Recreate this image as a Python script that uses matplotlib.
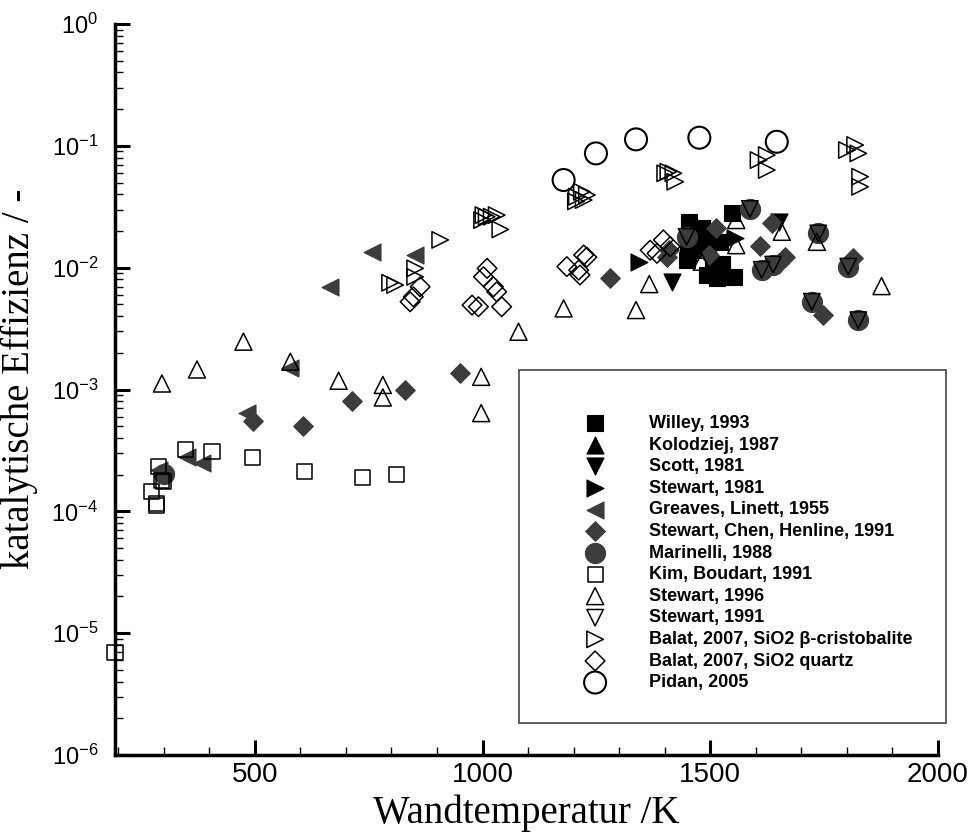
import matplotlib
matplotlib.use("Agg")
import matplotlib.pyplot as plt
from matplotlib.ticker import FixedLocator, MultipleLocator, LogLocator, NullFormatter
from matplotlib.patches import Rectangle

plt.rcParams['font.family'] = ['Liberation Sans', 'DejaVu Sans']

# --- data (T in K, efficiency) ---
willey_T = [1547, 1454, 1481, 1452, 1521, 1492, 1452, 1448, 1525, 1507, 1492, 1514, 1551, 1478]
willey_g = [2.79e-2, 2.38e-2, 2.10e-2, 1.74e-2, 1.63e-2, 1.63e-2, 1.31e-2, 1.16e-2, 1.08e-2, 1.02e-2, 8.7e-3, 8.2e-3, 8.4e-3, 1.40e-2]

kolodziej_T = [1470, 1500]
kolodziej_g = [1.9e-2, 1.45e-2]

scott_T = [1416, 1650]
scott_g = [7.6e-3, 2.35e-2]

stewart81_T = [1344, 1554]
stewart81_g = [1.12e-2, 1.74e-2]

greaves_T = [757, 852, 666, 578, 483, 350, 384, 289]
greaves_g = [1.35e-2, 1.27e-2, 6.97e-3, 1.49e-3, 6.44e-4, 2.8e-4, 2.5e-4, 2.18e-4]

sch_T = [497, 605, 713, 830, 951, 1280, 1405, 1410, 1512, 1498, 1635, 1609, 1664, 1650, 1814, 1748]
sch_g = [5.53e-4, 5.0e-4, 8.03e-4, 1.0e-3, 1.36e-3, 8.17e-3, 1.23e-2, 1.4e-2, 2.1e-2, 1.27e-2,
         2.31e-2, 1.5e-2, 1.23e-2, 1.1e-2, 1.19e-2, 4.08e-3]

marinelli_T = [1587, 1448, 1613, 1638, 1737, 1803, 1723, 1825, 300]
marinelli_g = [3.03e-2, 1.79e-2, 9.6e-3, 1.06e-2, 1.91e-2, 1.02e-2, 5.25e-3, 3.71e-3, 2.02e-4]

kim_T = [289, 296, 300, 274, 285, 285, 347, 406, 494, 609, 736, 811, 193]
kim_g = [2.32e-4, 1.80e-4, 1.75e-4, 1.45e-4, 1.17e-4, 1.12e-4, 3.24e-4, 3.08e-4, 2.79e-4,
         2.11e-4, 1.91e-4, 2.02e-4, 7.0e-6]

stewart96_T = [296, 373, 475, 578, 684, 781, 781, 997, 997, 1079, 1178, 1337, 1366,
               1557, 1557, 1657, 1734, 1876, 1481]
stewart96_g = [1.12e-3, 1.46e-3, 2.47e-3, 1.69e-3, 1.18e-3, 1.09e-3, 8.6e-4, 1.27e-3, 6.4e-4,
               2.98e-3, 4.63e-3, 4.49e-3, 7.33e-3, 2.46e-2, 1.53e-2, 1.97e-2, 1.63e-2, 7.06e-3, 1.12e-2]

stewart91_T = [1587, 1448, 1613, 1638, 1737, 1803, 1723, 1825]
stewart91_g = [3.03e-2, 1.79e-2, 9.6e-3, 1.06e-2, 1.91e-2, 1.02e-2, 5.25e-3, 3.71e-3]

balat_cr_T = [907, 797, 808, 852, 852, 1002, 1009, 1020, 1031, 1039, 999, 1218, 1207, 1222, 1229,
              1205, 1408, 1419, 1423, 1401, 1606, 1624, 1624, 1800, 1818, 1825, 1829, 1829]
balat_cr_g = [1.69e-2, 7.52e-3, 7.2e-3, 9.87e-3, 8.4e-3, 2.70e-2, 2.62e-2, 2.62e-2, 2.70e-2, 2.06e-2,
              2.46e-2, 4.2e-2, 3.82e-2, 3.59e-2, 3.95e-2, 3.5e-2, 6.13e-2, 5.95e-2, 5.07e-2, 5.95e-2,
              7.64e-2, 8.4e-2, 6.33e-2, 9.24e-2, 0.1016, 8.67e-2, 5.58e-2, 4.61e-2]

balat_q_T = [863, 848, 841, 1010, 1002, 1024, 1031, 977, 991, 1042, 1185, 1222, 1211, 1214, 1229,
             1368, 1397, 1412, 1383]
balat_q_g = [6.97e-3, 5.77e-3, 5.25e-3, 9.87e-3, 8.42e-3, 6.97e-3, 6.34e-3, 4.93e-3, 4.78e-3, 4.78e-3,
             1.02e-2, 1.27e-2, 9.55e-3, 8.7e-3, 1.22e-2, 1.39e-2, 1.69e-2, 1.49e-2, 1.31e-2]

pidan_T = [1178, 1249, 1337, 1476, 1646]
pidan_g = [5.24e-2, 8.67e-2, 0.113, 0.1166, 0.108]

x_major = [500, 1000, 1500, 2000]

gray = '#3c3c3c'

fig = plt.figure(figsize=(9.68, 8.39), dpi=100)
ax = fig.add_axes([115/968, 1-755/839, (938-115)/968, (755-24)/839])

# filled series
ax.scatter(willey_T, willey_g, marker='s', s=117, c='black', edgecolors='black', linewidths=0.8,
           label='Willey, 1993')
ax.scatter(kolodziej_T, kolodziej_g, marker='^', s=150, c='black', edgecolors='black', linewidths=0.8,
           label='Kolodziej, 1987')
ax.scatter(scott_T, scott_g, marker='v', s=150, c='black', edgecolors='black', linewidths=0.8,
           label='Scott, 1981')
ax.scatter(stewart81_T, stewart81_g, marker='>', s=150, c='black', edgecolors='black', linewidths=0.8,
           label='Stewart, 1981')
ax.scatter(greaves_T, greaves_g, marker='<', s=150, c=gray, edgecolors=gray, linewidths=0.8,
           label='Greaves, Linett, 1955')
ax.scatter(sch_T, sch_g, marker='D', s=100, c=gray, edgecolors=gray, linewidths=0.8,
           label='Stewart, Chen, Henline, 1991')
ax.scatter(marinelli_T, marinelli_g, marker='o', s=210, c=gray, edgecolors=gray, linewidths=0.8,
           label='Marinelli, 1988')

# open series
ax.scatter(kim_T, kim_g, marker='s', s=117, facecolors='none', edgecolors='black', linewidths=1.1,
           label='Kim, Boudart, 1991', clip_on=False)
ax.scatter(stewart96_T, stewart96_g, marker='^', s=150, facecolors='none', edgecolors='black',
           linewidths=1.1, label='Stewart, 1996')
ax.scatter(stewart91_T, stewart91_g, marker='v', s=140, facecolors='none', edgecolors='black',
           linewidths=1.1, label='Stewart, 1991')
ax.scatter(balat_cr_T, balat_cr_g, marker='>', s=140, facecolors='none', edgecolors='black',
           linewidths=1.1, label='Balat, 2007, SiO2 \u03b2-cristobalite')
ax.scatter(balat_q_T, balat_q_g, marker='D', s=100, facecolors='none', edgecolors='black',
           linewidths=1.1, label='Balat, 2007, SiO2 quartz')
ax.scatter(pidan_T, pidan_g, marker='o', s=250, facecolors='none', edgecolors='black',
           linewidths=1.5, label='Pidan, 2005')

ax.set_yscale('log')
ax.set_xlim(193, 2000)
ax.set_ylim(1e-6, 1)

ax.xaxis.set_major_locator(FixedLocator(x_major))
ax.xaxis.set_minor_locator(MultipleLocator(100))
ax.yaxis.set_major_locator(LogLocator(base=10, numticks=10))
ax.yaxis.set_minor_locator(LogLocator(base=10, subs=range(2, 10), numticks=10))
ax.yaxis.set_minor_formatter(NullFormatter())

for side in ['top', 'right']:
    ax.spines[side].set_visible(False)
for side in ['left', 'bottom']:
    ax.spines[side].set_linewidth(2.5)

ax.tick_params(axis='both', which='major', direction='in', length=11, width=2.2)
ax.tick_params(axis='both', which='minor', direction='in', length=6, width=1.0)
ax.tick_params(axis='x', which='major', labelsize=20, pad=5)
ax.tick_params(axis='y', which='major', labelsize=17, pad=12)

ax.set_xlabel('Wandtemperatur /K', fontsize=28, family='Liberation Serif', labelpad=5)
ax.set_ylabel('katalytische Effizienz / -', fontsize=28, family='Liberation Serif')
ax.yaxis.set_label_coords(-0.094, 0.515)

# legend frame + entries
frame = Rectangle((0.491, 0.0438), 0.5187, 0.4829, transform=ax.transAxes, fill=True,
                  facecolor='white', edgecolor='#444444', linewidth=1.2, clip_on=False, zorder=3)
ax.add_patch(frame)
leg = ax.legend(loc='upper left', bbox_to_anchor=(0.5614, 0.4651), frameon=False,
                prop={'family': 'Liberation Sans', 'weight': 'bold', 'size': 13},
                scatterpoints=1, borderpad=0, borderaxespad=0, handlelength=2.0,
                handletextpad=2.0, labelspacing=0.255)
leg.set_zorder(4)

fig.savefig('out.png', dpi=100)
